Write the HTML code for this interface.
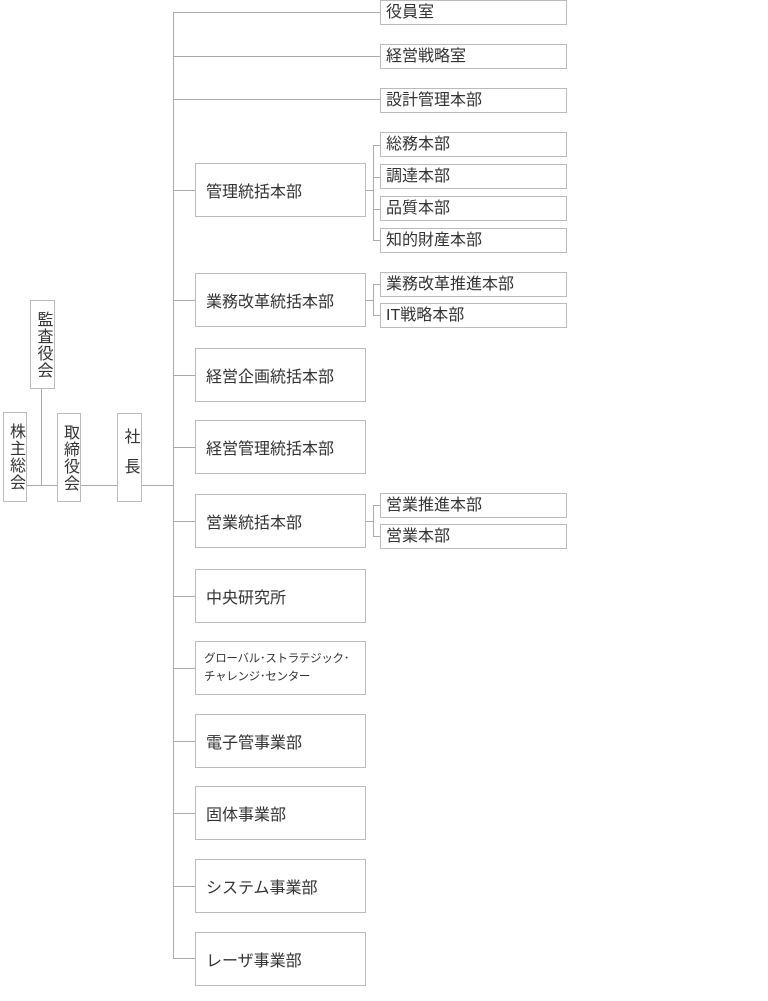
<!DOCTYPE html>
<html><head><meta charset="utf-8"><style>
html,body{margin:0;padding:0;background:#fff;}
body{width:768px;height:1001px;position:relative;overflow:hidden;font-family:"Liberation Sans","Noto Sans CJK JP",sans-serif;color:#333;}
.b{position:absolute;box-sizing:border-box;border:1px solid #bbb;background:#fff;font-size:16px;white-space:nowrap;}
.r{left:380px;width:187px;height:25px;line-height:23px;padding-left:5px;}
.m{left:195px;width:171px;height:54px;padding-left:10px;display:flex;align-items:center;}
.v{writing-mode:vertical-rl;text-align:center;display:flex;align-items:center;justify-content:center;font-size:16px;letter-spacing:1px;}
.h{position:absolute;height:1px;background:#aaa;}
.vl{position:absolute;width:1px;background:#aaa;}
</style></head><body>
<!-- left -->
<div class="b v" style="left:3px;top:412px;width:24px;height:90px;">株主総会</div>
<div class="b v" style="left:30px;top:300px;width:25px;height:89px;">監査役会</div>
<div class="b v" style="left:57px;top:413px;width:24px;height:89px;">取締役会</div>
<div class="b v" style="left:117px;top:413px;width:25px;height:89px;letter-spacing:14px;">社長</div>
<div class="h" style="left:27px;top:485px;width:30px;"></div>
<div class="h" style="left:81px;top:485px;width:36px;"></div>
<div class="h" style="left:142px;top:485px;width:31px;"></div>
<div class="vl" style="left:41px;top:389px;height:96px;"></div>
<!-- trunk -->
<div class="vl" style="left:173px;top:12px;height:947px;"></div>
<div class="h" style="left:173px;top:12px;width:207px;"></div>
<div class="h" style="left:173px;top:56px;width:207px;"></div>
<div class="h" style="left:173px;top:99px;width:207px;"></div>
<div class="b r" style="top:0px;">役員室</div>
<div class="b r" style="top:44px;">経営戦略室</div>
<div class="b r" style="top:88px;">設計管理本部</div>
<!-- middle boxes -->
<div class="h" style="left:173px;top:190px;width:22px;"></div>
<div class="h" style="left:173px;top:300px;width:22px;"></div>
<div class="h" style="left:173px;top:375px;width:22px;"></div>
<div class="h" style="left:173px;top:447px;width:22px;"></div>
<div class="h" style="left:173px;top:521px;width:22px;"></div>
<div class="h" style="left:173px;top:596px;width:22px;"></div>
<div class="h" style="left:173px;top:668px;width:22px;"></div>
<div class="h" style="left:173px;top:741px;width:22px;"></div>
<div class="h" style="left:173px;top:813px;width:22px;"></div>
<div class="h" style="left:173px;top:886px;width:22px;"></div>
<div class="h" style="left:173px;top:958px;width:22px;"></div>
<div class="b m" style="top:163px;">管理統括本部</div>
<div class="b m" style="top:273px;">業務改革統括本部</div>
<div class="b m" style="top:348px;">経営企画統括本部</div>
<div class="b m" style="top:420px;">経営管理統括本部</div>
<div class="b m" style="top:494px;">営業統括本部</div>
<div class="b m" style="top:569px;">中央研究所</div>
<div class="b m" style="top:641px;font-size:11.5px;line-height:18px;white-space:normal;letter-spacing:-0.3px;padding-left:8px;">グローバル･ストラテジック･<br>チャレンジ･センター</div>
<div class="b m" style="top:714px;">電子管事業部</div>
<div class="b m" style="top:786px;">固体事業部</div>
<div class="b m" style="top:859px;">システム事業部</div>
<div class="b m" style="top:932px;">レーザ事業部</div>
<!-- sub brackets -->
<div class="h" style="left:366px;top:190px;width:7px;"></div>
<div class="vl" style="left:373px;top:145px;height:96px;"></div>
<div class="h" style="left:373px;top:145px;width:7px;"></div>
<div class="h" style="left:373px;top:177px;width:7px;"></div>
<div class="h" style="left:373px;top:209px;width:7px;"></div>
<div class="h" style="left:373px;top:240px;width:7px;"></div>
<div class="b r" style="top:132px;">総務本部</div>
<div class="b r" style="top:164px;">調達本部</div>
<div class="b r" style="top:196px;">品質本部</div>
<div class="b r" style="top:228px;">知的財産本部</div>

<div class="h" style="left:366px;top:300px;width:7px;"></div>
<div class="vl" style="left:373px;top:284px;height:32px;"></div>
<div class="h" style="left:373px;top:284px;width:7px;"></div>
<div class="h" style="left:373px;top:315px;width:7px;"></div>
<div class="b r" style="top:272px;">業務改革推進本部</div>
<div class="b r" style="top:303px;">IT戦略本部</div>

<div class="h" style="left:366px;top:521px;width:7px;"></div>
<div class="vl" style="left:373px;top:505px;height:32px;"></div>
<div class="h" style="left:373px;top:505px;width:7px;"></div>
<div class="h" style="left:373px;top:536px;width:7px;"></div>
<div class="b r" style="top:493px;">営業推進本部</div>
<div class="b r" style="top:524px;">営業本部</div>
</body></html>
